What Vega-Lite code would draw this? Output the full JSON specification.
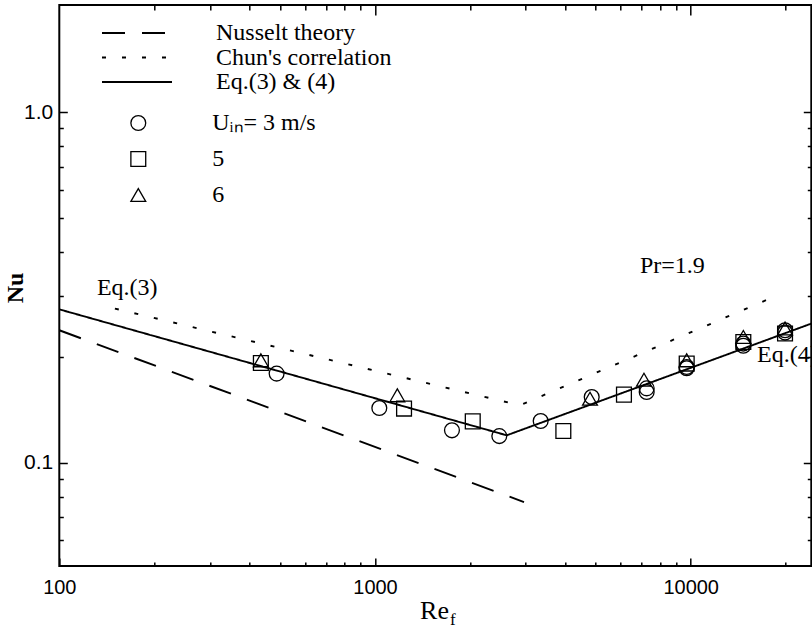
{
  "$schema": "https://vega.github.io/schema/vega-lite/v6.json",
  "width": 752,
  "height": 561,
  "autosize": {"type": "none"},
  "padding": {"left": 59.3, "top": 5, "right": 1, "bottom": 63},
  "background": "white",
  "config": {"view": {"stroke": "black", "strokeWidth": 2}, "font": "Liberation Serif"},
  "datasets": {
    "lines": [
      {"series": "Nusselt theory", "Re": 100, "Nu": 0.2388},
      {"series": "Nusselt theory", "Re": 2965, "Nu": 0.0772},
      {"series": "Chun's correlation", "Re": 150, "Nu": 0.2754},
      {"series": "Chun's correlation", "Re": 2877, "Nu": 0.1458},
      {"series": "Chun's correlation", "Re": 19180, "Nu": 0.3026},
      {"series": "Eq.(3) & (4)", "Re": 100, "Nu": 0.274},
      {"series": "Eq.(3) & (4)", "Re": 2614, "Nu": 0.1197},
      {"series": "Eq.(3) & (4)", "Re": 24100, "Nu": 0.2495}
    ],
    "points": [
      {"U": "6", "Re": 435, "Nu": 0.196},
      {"U": "6", "Re": 1177, "Nu": 0.1557},
      {"U": "6", "Re": 4798, "Nu": 0.1523},
      {"U": "6", "Re": 7112, "Nu": 0.1726},
      {"U": "6", "Re": 9712, "Nu": 0.196},
      {"U": "6", "Re": 14680, "Nu": 0.2285},
      {"U": "6", "Re": 19900, "Nu": 0.2415},
      {"U": "5", "Re": 435, "Nu": 0.1926},
      {"U": "5", "Re": 1236, "Nu": 0.1427},
      {"U": "5", "Re": 2040, "Nu": 0.1312},
      {"U": "5", "Re": 3950, "Nu": 0.1231},
      {"U": "5", "Re": 6146, "Nu": 0.1564},
      {"U": "5", "Re": 9712, "Nu": 0.1918},
      {"U": "5", "Re": 14680, "Nu": 0.2211},
      {"U": "5", "Re": 19900, "Nu": 0.2337},
      {"U": "3", "Re": 488, "Nu": 0.1796},
      {"U": "3", "Re": 1032, "Nu": 0.1432},
      {"U": "3", "Re": 1753, "Nu": 0.1237},
      {"U": "3", "Re": 2476, "Nu": 0.1191},
      {"U": "3", "Re": 3348, "Nu": 0.1315},
      {"U": "3", "Re": 4858, "Nu": 0.154},
      {"U": "3", "Re": 7254, "Nu": 0.1591},
      {"U": "3", "Re": 7254, "Nu": 0.163},
      {"U": "3", "Re": 9712, "Nu": 0.1876},
      {"U": "3", "Re": 9712, "Nu": 0.186},
      {"U": "3", "Re": 14680, "Nu": 0.2188},
      {"U": "3", "Re": 14680, "Nu": 0.2156},
      {"U": "3", "Re": 19900, "Nu": 0.2352},
      {"U": "3", "Re": 19900, "Nu": 0.2389}
    ],
    "notes": [
      {"label": "Eq.(3)", "Re": 131.6, "Nu": 0.3006},
      {"label": "Pr=1.9", "Re": 6909, "Nu": 0.3474},
      {"label": "Eq.(4)", "Re": 16220, "Nu": 0.1934}
    ],
    "sub": [
      {"label": "f", "Re": 1729, "Nu": 0.0343}
    ]
  },
  "layer": [
    {
      "data": {"name": "lines"},
      "mark": {"type": "line", "color": "black", "strokeWidth": 1.9},
      "encoding": {
        "x": {
          "field": "Re", "type": "quantitative",
          "scale": {"type": "log", "domain": [100, 24100], "nice": false},
          "axis": {
            "orient": "bottom",
            "values": [100, 200, 300, 400, 500, 600, 700, 800, 900, 1000, 2000, 3000, 4000, 5000, 6000, 7000, 8000, 9000, 10000, 20000],
            "labelExpr": "datum.value == 100 || datum.value == 1000 || datum.value == 10000 ? datum.value + '' : ''",
            "tickSize": {"condition": {"test": "datum.value == 100 || datum.value == 1000 || datum.value == 10000", "value": -8}, "value": -4},
            "tickColor": "black", "tickWidth": 1.5,
            "domain": false, "grid": false,
            "labelFont": "Liberation Sans", "labelFontSize": 20, "labelColor": "black",
            "labelPadding": 20, "labelFlush": false, "labelOverlap": false, "labelBound": false,
            "title": "Re", "titleFont": "Liberation Serif", "titleFontSize": 26, "titleFontWeight": "normal",
            "titleColor": "black", "titleX": 374.7, "titleY": 52.3, "titleBaseline": "alphabetic", "titleAlign": "center"
          }
        },
        "y": {
          "field": "Nu", "type": "quantitative",
          "scale": {"type": "log", "domain": [0.0507, 2.026], "nice": false},
          "axis": {
            "orient": "left",
            "values": [0.06, 0.07, 0.08, 0.09, 0.1, 0.2, 0.3, 0.4, 0.5, 0.6, 0.7, 0.8, 0.9, 1],
            "labelExpr": "datum.value == 1 ? '1.0' : datum.value == 0.1 ? '0.1' : ''",
            "tickSize": {"condition": {"test": "datum.value == 1 || datum.value == 0.1", "value": -8}, "value": -4},
            "tickColor": "black", "tickWidth": 1.5,
            "domain": false, "grid": false,
            "labelFont": "Liberation Sans", "labelFontSize": 21, "labelColor": "black",
            "labelPadding": 14.6, "labelFlush": false, "labelOverlap": false, "labelBound": false,
            "title": "Nu", "titleFont": "Liberation Serif", "titleFontSize": 24, "titleFontWeight": "bold",
            "titleColor": "black", "titleAngle": -90, "titleX": -37, "titleY": 282.5, "titleBaseline": "alphabetic", "titleAlign": "center"
          }
        },
        "strokeDash": {
          "field": "series", "type": "nominal",
          "scale": {"domain": ["Nusselt theory", "Chun's correlation", "Eq.(3) & (4)"], "range": [[23, 17], [4, 16], [1, 0]]},
          "legend": {
            "orient": "none", "legendX": 65.7, "legendY": 16, "title": null, "padding": 0,
            "symbolType": "M-7,0H7", "symbolSize": 100, "symbolStrokeColor": "black", "symbolStrokeWidth": 1.8,
            "labelFont": "Liberation Serif", "labelFontSize": 24, "labelColor": "black", "labelOffset": 67, "labelLimit": 400,
            "rowPadding": 0.5
          }
        }
      }
    },
    {
      "data": {"name": "points"},
      "mark": {"type": "point", "filled": false, "color": "black", "strokeWidth": 1.3, "size": 220, "opacity": 1},
      "encoding": {
        "x": {"field": "Re", "type": "quantitative", "scale": {"type": "log", "domain": [100, 24100], "nice": false}, "axis": null},
        "y": {"field": "Nu", "type": "quantitative", "scale": {"type": "log", "domain": [0.0507, 2.026], "nice": false}, "axis": null},
        "shape": {
          "field": "U", "type": "nominal",
          "scale": {"domain": ["3", "5", "6"], "range": ["circle", "square", "triangle-up"]},
          "legend": {
            "orient": "none", "legendX": 67, "legendY": 106, "title": null, "padding": 0,
            "symbolSize": 220, "symbolStrokeColor": "black", "symbolStrokeWidth": 1.3, "symbolFillColor": "transparent",
            "labelFont": "Liberation Serif", "labelFontSize": 24, "labelColor": "black", "labelOffset": 62, "labelLimit": 400,
            "labelExpr": "datum.label == '3' ? 'U\u1d62\u2099= 3 m/s' : '\u2007\u2007\u2007\u2005' + datum.label",
            "rowPadding": 12
          }
        }
      }
    },
    {
      "data": {"name": "notes"},
      "mark": {"type": "text", "font": "Liberation Serif", "fontSize": 24, "color": "black", "align": "left", "baseline": "alphabetic"},
      "encoding": {
        "x": {
          "field": "Re", "type": "quantitative", "scale": {"type": "log", "domain": [100, 24100], "nice": false},
          "axis": {
            "orient": "top",
            "values": [200, 300, 400, 500, 600, 700, 800, 900, 1000, 2000, 3000, 4000, 5000, 6000, 7000, 8000, 9000, 10000, 20000],
            "labels": false, "title": null, "domain": false, "grid": false,
            "tickSize": {"condition": {"test": "datum.value == 1000 || datum.value == 10000", "value": -10}, "value": -5},
            "tickColor": "black", "tickWidth": 1.5
          }
        },
        "y": {
          "field": "Nu", "type": "quantitative", "scale": {"type": "log", "domain": [0.0507, 2.026], "nice": false},
          "axis": {
            "orient": "right",
            "values": [0.06, 0.07, 0.08, 0.09, 0.1, 0.2, 0.3, 0.4, 0.5, 0.6, 0.7, 0.8, 0.9, 1],
            "labels": false, "title": null, "domain": false, "grid": false,
            "tickSize": {"condition": {"test": "datum.value == 1 || datum.value == 0.1", "value": -8}, "value": -4},
            "tickColor": "black", "tickWidth": 1.5
          }
        },
        "text": {"field": "label"}
      }
    },
    {
      "data": {"name": "sub"},
      "mark": {"type": "text", "font": "Liberation Serif", "fontSize": 17, "color": "black", "align": "left", "baseline": "alphabetic"},
      "encoding": {
        "x": {"field": "Re", "type": "quantitative", "scale": {"type": "log", "domain": [100, 24100], "nice": false}, "axis": null},
        "y": {"field": "Nu", "type": "quantitative", "scale": {"type": "log", "domain": [0.0507, 2.026], "nice": false}, "axis": null},
        "text": {"field": "label"}
      }
    }
  ],
  "resolve": {"axis": {"x": "independent", "y": "independent"}}
}
